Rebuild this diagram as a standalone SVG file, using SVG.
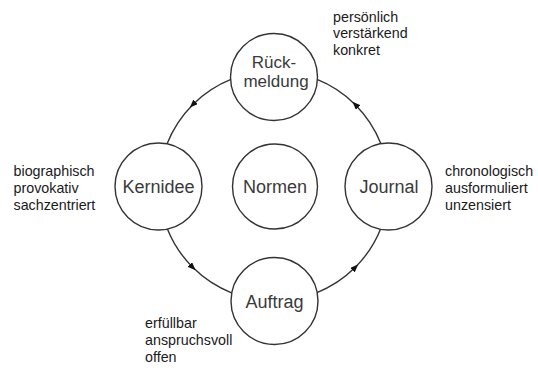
<svg xmlns="http://www.w3.org/2000/svg" width="538" height="371" viewBox="0 0 538 371">
<defs>
<style>
.node circle{fill:#fff;stroke:#333;stroke-width:1.4}
.node text{font-family:"Liberation Sans",Arial,sans-serif;font-size:18px;fill:#3a3a3a;text-anchor:middle}
.node text.two{font-size:17px}
.note{font-family:"Liberation Sans",Arial,sans-serif;font-size:14.3px;fill:#1a1a1a}
.edge{fill:none;stroke:#333;stroke-width:1.4;marker-mid:url(#arr)}
</style>
<marker id="arr" viewBox="0 0 10 8" refX="5" refY="4" markerWidth="8" markerHeight="6.4" markerUnits="userSpaceOnUse" orient="auto">
<path d="M0,0 L10,4 L0,8 Z" fill="#111"/>
</marker>
</defs>
<rect width="538" height="371" fill="#fff"/>
<g id="connectors">
<path class="edge" d="M231.5,79.2 A115,115 0 0 0 192.7,104.7 A115,115 0 0 0 167.2,143.5"/>
<path class="edge" d="M167.2,228.5 A115,115 0 0 0 192.7,267.3 A115,115 0 0 0 231.5,292.8"/>
<path class="edge" d="M316.5,292.8 A115,115 0 0 0 355.3,267.3 A115,115 0 0 0 380.8,228.5"/>
<path class="edge" d="M380.8,143.5 A115,115 0 0 0 355.3,104.7 A115,115 0 0 0 316.5,79.2"/>
</g>
<g id="rueckmeldung" class="node">
<circle cx="274" cy="77" r="43.5"/>
<text class="two" x="274" y="67.5">Rück-</text>
<text class="two" x="276" y="86.5">meldung</text>
</g>
<g id="kernidee" class="node">
<circle cx="158.5" cy="186.5" r="43.5"/>
<text x="158.5" y="193">Kernidee</text>
</g>
<g id="normen" class="node">
<circle cx="275" cy="186.5" r="42.5"/>
<text x="275" y="193">Normen</text>
</g>
<g id="journal" class="node">
<circle cx="388.5" cy="186.5" r="43.5"/>
<text x="389" y="192.5">Journal</text>
</g>
<g id="auftrag" class="node">
<circle cx="274.5" cy="301" r="43.5"/>
<text x="274.5" y="307.5">Auftrag</text>
</g>
<g id="notes">
<text class="note" x="333" y="21.5">persönlich</text>
<text class="note" x="333" y="38.3">verstärkend</text>
<text class="note" x="333" y="55">konkret</text>
<text class="note" x="13.5" y="176">biographisch</text>
<text class="note" x="13.5" y="193">provokativ</text>
<text class="note" x="13.5" y="210">sachzentriert</text>
<text class="note" x="445" y="176">chronologisch</text>
<text class="note" x="445" y="193">ausformuliert</text>
<text class="note" x="445" y="210">unzensiert</text>
<text class="note" x="145" y="328">erfüllbar</text>
<text class="note" x="145" y="345">anspruchsvoll</text>
<text class="note" x="145" y="362">offen</text>
</g>
</svg>
